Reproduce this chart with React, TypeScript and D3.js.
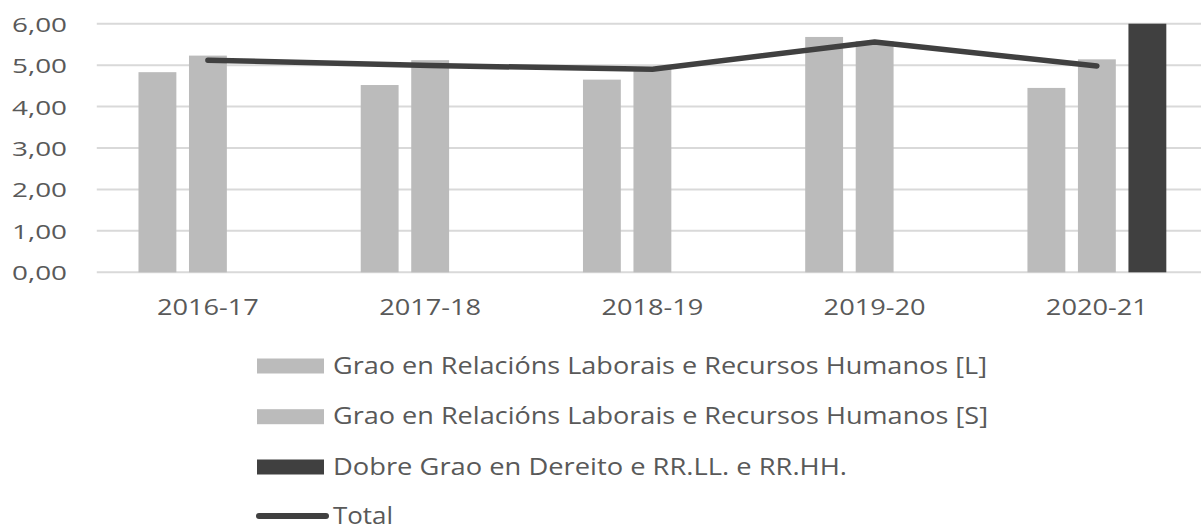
import React, { useEffect, useRef } from "react";
import * as d3 from "d3";

const years = ["2016-17", "2017-18", "2018-19", "2019-20", "2020-21"];
const seriesNames = [
  "Grao en Relacións Laborais e Recursos Humanos [L]",
  "Grao en Relacións Laborais e Recursos Humanos [S]",
  "Dobre Grao en Dereito e RR.LL. e RR.HH.",
];
const gradoL = [4.83, 4.52, 4.65, 5.68, 4.45];
const gradoS = [5.23, 5.12, 4.92, 5.58, 5.14];
const dobre = [null, null, null, null, 6.0];
const total = [5.12, 4.99, 4.9, 5.56, 4.98];
const yTicks = [0, 1, 2, 3, 4, 5, 6];

const barColors = ["#bbbbbb", "#bbbbbb", "#404040"];
const lineColor = "#404040";
const textColor = "#595959";

const App = () => {
  const svgRef = useRef(null);

  useEffect(() => {
    const svg = d3.select(svgRef.current);
    svg.selectAll("*").remove();

    const font = "'Open Sans', sans-serif";
    const left = 96.8, right = 1208;
    const top = 23.7, bottom = 272.3;

    const x0 = d3.scaleBand().domain(years).range([left, right]).padding(0);
    const bw = x0.bandwidth();
    const step = 50.5;
    const keys = [0, 1, 2];
    const x1 = d3.scaleBand()
      .domain(keys)
      .range([bw / 2 - 1.5 * step, bw / 2 + 1.5 * step])
      .paddingInner(0.25)
      .paddingOuter(0.125);
    const y = d3.scaleLinear().domain([0, 6]).range([bottom, top]);

    // gridlines
    svg.append("g")
      .selectAll("line")
      .data(yTicks)
      .enter()
      .append("line")
      .attr("x1", left)
      .attr("x2", 1201)
      .attr("y1", d => y(d))
      .attr("y2", d => y(d))
      .attr("stroke", "#d9d9d9")
      .attr("stroke-width", 2);

    // y labels
    svg.append("g")
      .selectAll("text")
      .data(yTicks)
      .enter()
      .append("text")
      .attr("x", 67)
      .attr("y", d => y(d) + 8)
      .attr("text-anchor", "end")
      .attr("font-family", font)
      .attr("font-size", 20)
      .attr("fill", textColor)
      .attr("textLength", 55)
      .attr("lengthAdjust", "spacingAndGlyphs")
      .text(d => d.toFixed(2).replace(".", ","));

    // bars
    const seriesValues = [gradoL, gradoS, dobre];
    const cells = [];
    years.forEach((yr, i) => {
      keys.forEach(k => {
        const v = seriesValues[k][i];
        if (v != null) cells.push({ yr, k, v });
      });
    });
    svg.append("g")
      .selectAll("rect")
      .data(cells)
      .enter()
      .append("rect")
      .attr("x", d => x0(d.yr) + x1(d.k))
      .attr("y", d => y(d.v))
      .attr("width", x1.bandwidth())
      .attr("height", d => y(0) - y(d.v))
      .attr("fill", d => barColors[d.k]);

    // total line
    const line = d3.line()
      .x((d, i) => x0(years[i]) + bw / 2)
      .y(d => y(d));
    svg.append("path")
      .datum(total)
      .attr("d", line)
      .attr("fill", "none")
      .attr("stroke", lineColor)
      .attr("stroke-width", 5.5)
      .attr("stroke-linecap", "round")
      .attr("stroke-linejoin", "round");

    // x labels
    svg.append("g")
      .selectAll("text")
      .data(years)
      .enter()
      .append("text")
      .attr("x", d => x0(d) + bw / 2)
      .attr("y", 315)
      .attr("text-anchor", "middle")
      .attr("font-family", font)
      .attr("font-size", 22)
      .attr("fill", textColor)
      .attr("textLength", 102)
      .attr("lengthAdjust", "spacingAndGlyphs")
      .text(d => d);

    // legend
    const legendRows = [366, 416.7, 467];
    const legendLengths = [654, 655, 514];
    const lg = svg.append("g");
    seriesNames.forEach((name, i) => {
      lg.append("rect")
        .attr("x", 257)
        .attr("y", legendRows[i] - 7.5)
        .attr("width", 67)
        .attr("height", 15)
        .attr("fill", barColors[i]);
      lg.append("text")
        .attr("x", 333)
        .attr("y", legendRows[i] + 7.5)
        .attr("font-family", font)
        .attr("font-size", 23)
        .attr("fill", textColor)
        .attr("textLength", legendLengths[i])
        .attr("lengthAdjust", "spacingAndGlyphs")
        .text(name);
    });
    lg.append("line")
      .attr("x1", 259)
      .attr("x2", 326)
      .attr("y1", 516)
      .attr("y2", 516)
      .attr("stroke", lineColor)
      .attr("stroke-width", 6)
      .attr("stroke-linecap", "round");
    lg.append("text")
      .attr("x", 333)
      .attr("y", 523.5)
      .attr("font-family", font)
      .attr("font-size", 23)
      .attr("fill", textColor)
      .attr("textLength", 60)
      .attr("lengthAdjust", "spacingAndGlyphs")
      .text("Total");
  }, []);

  return (
    <svg
      ref={svgRef}
      width={1201}
      height={524}
      style={{ position: "absolute", left: 0, top: 0, background: "#fff" }}
    ></svg>
  );
};

export default App;
